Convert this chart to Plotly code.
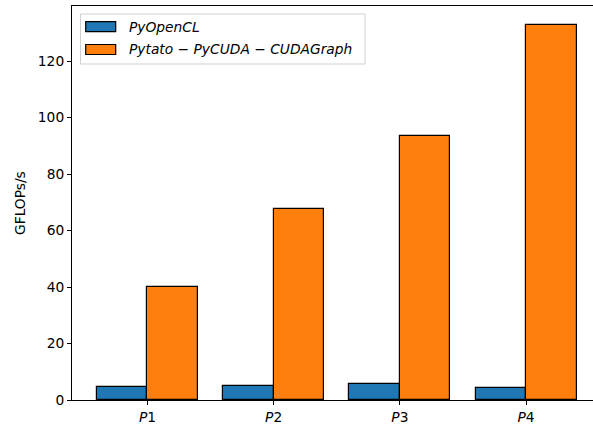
import plotly.graph_objects as go

# Measured throughput per problem size
problems = ["P1", "P2", "P3", "P4"]
pyopencl = [4.5, 4.8, 5.6, 4.1]
pytato_cudagraph = [40.1, 67.7, 93.6, 132.9]

series_names = ["<i>PyOpenCL</i>", "<i>Pytato</i> \u2212 <i>PyCUDA</i> \u2212 <i>CUDAGraph</i>"]
colors = ["#1f77b4", "#ff7f0e"]
tick_text = ["<i>P</i>1", "<i>P</i>2", "<i>P</i>3", "<i>P</i>4"]

W, H = 593, 428
ML, MR, MT, MB = 72, 0, 6, 28
FONT = "DejaVu Sans"
FS = 13.8

x_idx = list(range(len(problems)))
bar_w = 0.4
x_lo = -0.598
unit_px = 126.2
x_hi = x_lo + (W - ML - MR) / unit_px
y_hi = max(pytato_cudagraph) * 1.05

fig = go.Figure()
for vals, off, col in [(pyopencl, -bar_w / 2, colors[0]), (pytato_cudagraph, bar_w / 2, colors[1])]:
    fig.add_trace(go.Bar(
        x=[i + off for i in x_idx], y=vals, width=bar_w,
        marker=dict(color=col, line=dict(color="black", width=1.2)),
        showlegend=False,
    ))

pw = W - ML - MR
ph = H - MT - MB


def px_x(px):
    return (px - ML) / pw


def px_y(py):
    return (H - MB - py) / ph


# Legend frame, patches and labels
shapes = [dict(type="rect", xref="paper", yref="paper",
               x0=px_x(80.5), x1=px_x(365), y0=px_y(64), y1=px_y(14),
               line=dict(color="#d0d0d0", width=1), fillcolor="rgba(255,255,255,0.8)", layer="above")]
annotations = []
for k, (name, col, yc) in enumerate(zip(series_names, colors, [26.7, 49.5])):
    shapes.append(dict(type="rect", xref="paper", yref="paper",
                       x0=px_x(85.7), x1=px_x(115.7), y0=px_y(yc + 5), y1=px_y(yc - 5),
                       line=dict(color="black", width=1.2), fillcolor=col, layer="above"))
    annotations.append(dict(xref="paper", yref="paper", x=px_x(127), y=px_y(yc),
                            xanchor="left", yanchor="middle", showarrow=False,
                            text=name, font=dict(family=FONT, size=FS, color="black")))

annotations.append(dict(xref="paper", yref="paper", x=px_x(20), y=px_y(203),
                        xanchor="center", yanchor="middle", showarrow=False, textangle=-90,
                        text="GFLOPs/s", font=dict(family=FONT, size=FS, color="black")))

fig.update_layout(
    width=W, height=H,
    margin=dict(l=ML, r=MR, t=MT, b=MB),
    paper_bgcolor="white", plot_bgcolor="white",
    font=dict(family=FONT, size=FS, color="black"),
    shapes=shapes, annotations=annotations,
    bargap=0,
    xaxis=dict(range=[x_lo, x_hi], tickvals=x_idx, ticktext=tick_text,
               showgrid=False, zeroline=False, showline=True, linecolor="black",
               linewidth=1.1, mirror=True, ticks="outside", ticklen=4, tickwidth=1.1,
               tickcolor="black", tickfont=dict(family=FONT, size=FS)),
    yaxis=dict(range=[0, y_hi], tickvals=[0, 20, 40, 60, 80, 100, 120],
               showgrid=False, zeroline=False, showline=True, linecolor="black",
               linewidth=1.1, ticks="outside", ticklen=4, tickwidth=1.1,
               tickcolor="black", tickfont=dict(family=FONT, size=FS)),
)

fig.write_html("out.html")
